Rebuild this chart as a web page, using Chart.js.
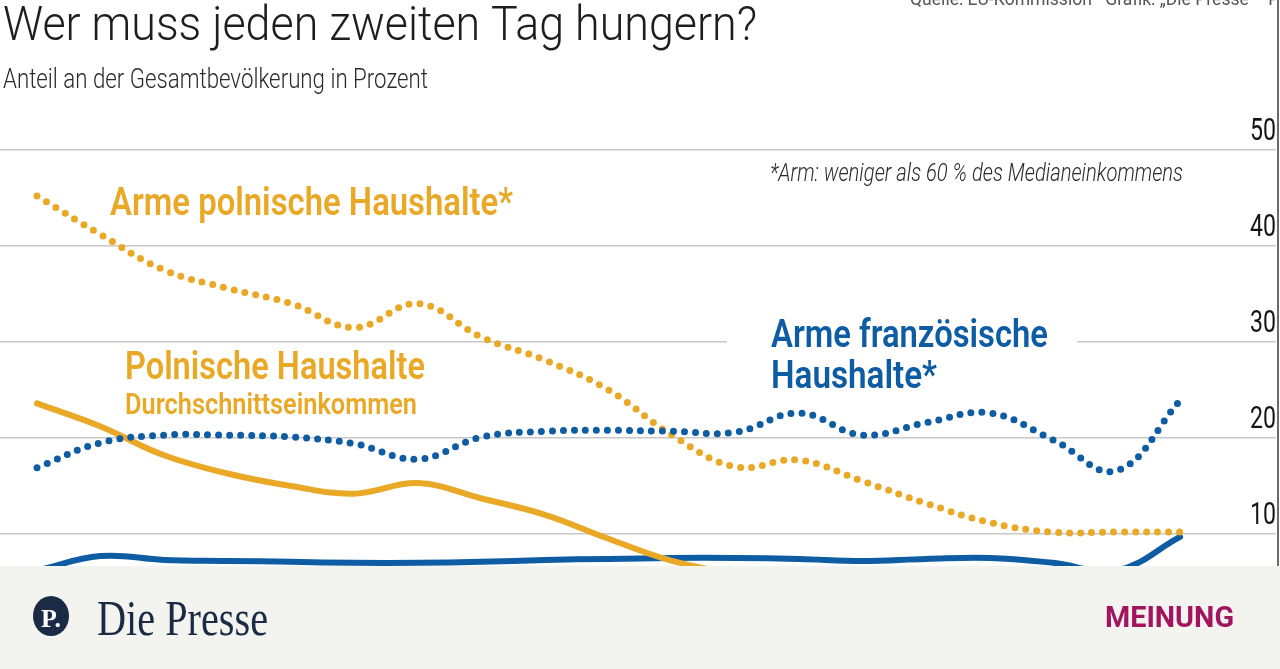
<!DOCTYPE html>
<html>
<head>
<meta charset="utf-8">
<script src="https://cdn.jsdelivr.net/npm/chart.js@4"></script>
<style>
  html, body { margin: 0; padding: 0; background: #fff; overflow: hidden; }
  #chart { display: block; }
</style>
</head>
<body>
<canvas id="chart" width="1280" height="669"></canvas>
<script>
// Years shown on the (hidden) x axis
const years = [2005, 2006, 2007, 2008, 2009, 2010, 2011, 2012, 2013, 2014,
               2015, 2016, 2017, 2018, 2019, 2020, 2021, 2022, 2023];

// Share of population, percent
const polandPoor    = [45.2, 41.2, 37.5, 35.6, 34.0, 31.5, 34.0, 30.5, 28.1, 25.0,
                       20.3, 17.0, 17.7, 15.5, 13.2, 11.2, 10.2, 10.2, 10.2];
const francePoor    = [16.9, 19.5, 20.3, 20.3, 20.1, 19.4, 17.8, 20.1, 20.7, 20.8,
                       20.7, 20.6, 22.6, 20.3, 21.6, 22.6, 19.8, 16.6, 23.9];
const polandAll     = [23.6, 21.2, 18.2, 16.3, 15.0, 14.2, 15.3, 13.7, 12.0, 9.5,
                       7.2, 5.9, 5.5, 5.2, 4.9, 4.6, 4.3, 4.0, 3.8];
const franceAll     = [6.2, 7.7, 7.3, 7.2, 7.1, 7.0, 7.0, 7.1, 7.3, 7.4,
                       7.5, 7.5, 7.4, 7.2, 7.4, 7.5, 7.0, 6.2, 9.7];

const yTicks = [10, 20, 30, 40, 50];

const ORANGE = "#eaa827";
const BLUE   = "#0e5ca3";

const toPoints = arr => arr.map((v, i) => ({ x: years[i], y: v }));

// draw text squeezed/stretched to a given width (the original uses a condensed face)
function fitText(ctx, text, x, y, font, color, width, align) {
  ctx.save();
  ctx.font = font;
  ctx.fillStyle = color;
  ctx.textBaseline = "alphabetic";
  ctx.textAlign = "left";
  const w = ctx.measureText(text).width;
  const sx = width / w;
  ctx.translate(x, y);
  ctx.scale(sx, 1);
  ctx.fillText(text, align === "right" ? -w : 0, 0);
  ctx.restore();
}

const decorations = {
  id: "decorations",
  afterDatasetsDraw(chart) {
    const ctx = chart.ctx, ys = chart.scales.y;

    // tick labels, sitting above their grid line at the right edge
    yTicks.forEach(t => {
      fitText(ctx, String(t), 1276, ys.getPixelForValue(t) - 10,
              "400 31px Roboto", "#151515", 26, "right");
    });

    // series labels
    fitText(ctx, "Arme polnische Haushalte*", 110, 215, "600 38px Roboto", ORANGE, 403);
    fitText(ctx, "Polnische Haushalte", 125, 379, "600 38px Roboto", ORANGE, 300);
    fitText(ctx, "Durchschnittseinkommen", 125, 414, "600 30px Roboto", ORANGE, 292);

    ctx.fillStyle = "#fff";
    ctx.fillRect(727, 334, 350, 16);
    fitText(ctx, "Arme französische", 771, 347, "600 38px Roboto", BLUE, 277);
    fitText(ctx, "Haushalte*", 771, 388, "600 38px Roboto", BLUE, 166);

    fitText(ctx, "*Arm: weniger als 60 % des Medianeinkommens", 770, 181,
            "italic 300 25px Roboto", "#2a2a2a", 413);
  },
  afterDraw(chart) {
    const ctx = chart.ctx;

    // header
    fitText(ctx, "Wer muss jeden zweiten Tag hungern?", 3, 40, "300 49px Roboto", "#1e1e1e", 754);
    fitText(ctx, "Anteil an der Gesamtbevölkerung in Prozent", 3, 88, "300 28px Roboto", "#2a2a2a", 425);
    fitText(ctx, "Quelle: EU-Kommission \u00b7 Grafik: \u201eDie Presse\u201c \u00b7 PW", 910, 5,
            "400 19px Roboto", "#555", 385);

    // frame line on the right
    ctx.save();
    ctx.strokeStyle = "#3a3a3a";
    ctx.lineWidth = 1.5;
    ctx.beginPath();
    ctx.moveTo(1278, 0);
    ctx.lineTo(1278, 566);
    ctx.stroke();

    // footer band
    ctx.fillStyle = "#f3f3f0";
    ctx.fillRect(0, 566, 1280, 103);

    ctx.fillStyle = "#1c2b45";
    ctx.beginPath();
    ctx.ellipse(51, 616, 18, 20, 0, 0, Math.PI * 2);
    ctx.fill();
    ctx.restore();

    fitText(ctx, "P.", 41, 627, "bold 26px 'Liberation Serif'", "#fff", 20);
    fitText(ctx, "Die Presse", 97, 635, "400 50px 'Liberation Serif'", "#1c2b45", 171);
    fitText(ctx, "MEINUNG", 1105, 627, "700 29px Roboto", "#a3145f", 129);
  }
};

new Chart(document.getElementById("chart"), {
  type: "line",
  data: {
    datasets: [
      { label: "Arme französische Haushalte", data: toPoints(francePoor),
        borderColor: BLUE, borderWidth: 7, borderDash: [0, 11], borderCapStyle: "round" },
      { label: "Arme polnische Haushalte", data: toPoints(polandPoor),
        borderColor: ORANGE, borderWidth: 7, borderDash: [0, 11], borderCapStyle: "round" },
      { label: "Polnische Haushalte", data: toPoints(polandAll),
        borderColor: ORANGE, borderWidth: 6, borderCapStyle: "round" },
      { label: "Französische Haushalte", data: toPoints(franceAll),
        borderColor: BLUE, borderWidth: 6, borderCapStyle: "round" }
    ]
  },
  options: {
    responsive: false,
    animation: false,
    devicePixelRatio: 1,
    layout: { padding: { top: 150, bottom: 39, left: 0, right: 4 } },
    elements: { point: { radius: 0 }, line: { tension: 0.4, fill: false } },
    plugins: { legend: { display: false }, tooltip: { enabled: false } },
    scales: {
      x: { type: "linear", min: 2004.417, max: 2024.511, display: false },
      y: {
        min: 0, max: 50,
        afterBuildTicks: s => { s.ticks = yTicks.map(v => ({ value: v })); },
        afterFit: s => { s.width = 0; },
        ticks: { display: false },
        border: { display: false },
        grid: { color: "#c8c8c8", lineWidth: 1.5, drawTicks: false }
      }
    }
  },
  plugins: [decorations]
});
</script>
</body>
</html>
